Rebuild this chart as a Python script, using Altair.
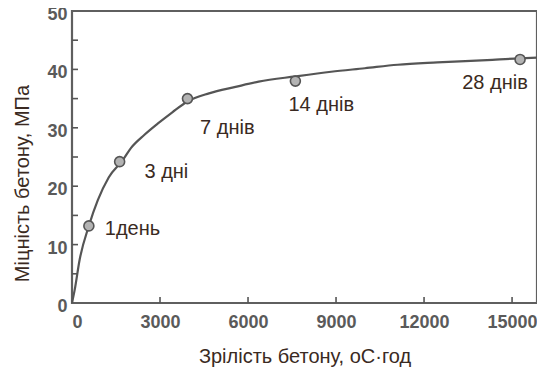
import altair as alt
import pandas as pd

# fitted strength-maturity curve
curve_m = [0, 90, 260, 575, 880, 1250, 1736, 2020, 2470, 2920, 3430, 3936, 4670, 5574,
           6362, 7614, 8832, 9983, 11100, 12453, 14146, 15262, 15850]
curve_s = [0, 2.2, 7.4, 13.2, 17.6, 21.5, 24.5, 26.6, 28.8, 30.7, 32.7, 34.5, 35.9, 37.0,
           37.9, 38.8, 39.6, 40.2, 40.8, 41.2, 41.6, 41.9, 42.0]

# measured points
pt_m = [575, 1624, 3936, 7614, 15273]
pt_s = [13.2, 24.2, 35.0, 38.0, 41.7]

# annotations
lab_text = ["1день", "3 дні", "7 днів", "14 днів", "28 днів"]
lab_m = [1117, 2470, 4365, 7377, 13300]
lab_s = [12.7, 22.4, 30.0, 33.9, 37.7]

x_ticks = [3000, 6000, 9000, 12000, 15000]
y_ticks = [5, 10, 15, 20, 25, 30, 35, 40, 45]

W, H = 465, 292
FONT = "Liberation Sans"
TXT = "#3a2a22"

curve_df = pd.DataFrame({"m": curve_m, "s": curve_s})
pt_df = pd.DataFrame({"m": pt_m, "s": pt_s})
lab_df = pd.DataFrame({"m": lab_m, "s": lab_s, "t": lab_text})
xt_df = pd.DataFrame({"m": x_ticks})
yt_df = pd.DataFrame({"s": y_ticks})

xscale = alt.Scale(domain=[0, 15850], nice=False, zero=False)
yscale = alt.Scale(domain=[0, 50], nice=False)

xaxis = alt.Axis(values=[0, 3000, 6000, 9000, 12000, 15000], format="d", domain=False,
                 ticks=False, grid=False, labelFont=FONT, labelFontSize=18,
                 labelFontWeight="bold", labelColor="#5a5a5a", labelPadding=10,
                 title="Зрілість бетону, оС·год", titleFont=FONT, titleFontSize=20,
                 titleFontWeight="normal", titleColor=TXT, titlePadding=15)
yaxis = alt.Axis(values=[0, 10, 20, 30, 40, 50], domain=False, ticks=False, grid=False,
                 labelFont=FONT, labelFontSize=18, labelFontWeight="bold",
                 labelColor="#5a5a5a", labelPadding=5, labelOffset=3.5,
                 title="Міцність бетону, МПа", titleFont=FONT, titleFontSize=20,
                 titleFontWeight="normal", titleColor=TXT, titlePadding=14,
                 titleY=172)

line = alt.Chart(curve_df).mark_line(color="#555555", strokeWidth=2.2,
                                     interpolate="monotone").encode(
    x=alt.X("m:Q", scale=xscale, axis=xaxis),
    y=alt.Y("s:Q", scale=yscale, axis=yaxis),
)

pts = alt.Chart(pt_df).mark_point(shape="circle", filled=True, size=100,
                                  fill="#b3b3b3", stroke="#555555",
                                  strokeWidth=1.6, opacity=1).encode(
    x=alt.X("m:Q", scale=xscale),
    y=alt.Y("s:Q", scale=yscale),
)

labels = alt.Chart(lab_df).mark_text(align="left", baseline="middle", font=FONT,
                                     fontSize=20, color=TXT).encode(
    x=alt.X("m:Q", scale=xscale),
    y=alt.Y("s:Q", scale=yscale),
    text="t:N",
)

xt = alt.Chart(xt_df).mark_rule(color="#555555", strokeWidth=1.6).encode(
    x=alt.X("m:Q", scale=xscale),
    y=alt.value(H),
    y2=alt.value(H - 6),
)

yt = alt.Chart(yt_df).mark_rule(color="#555555", strokeWidth=1.6).encode(
    y=alt.Y("s:Q", scale=yscale),
    x=alt.value(0),
    x2=alt.value(6),
)

chart = alt.layer(xt, yt, line, pts, labels).properties(
    width=W, height=H,
    autosize=alt.AutoSizeParams(type="none"),
    padding={"left": 64, "top": 3, "right": 0, "bottom": 66},
    background="white",
).configure_view(stroke="#5f5f5f", strokeWidth=2.2)

chart.save("out.html", embed_options={"renderer": "svg", "actions": False})
